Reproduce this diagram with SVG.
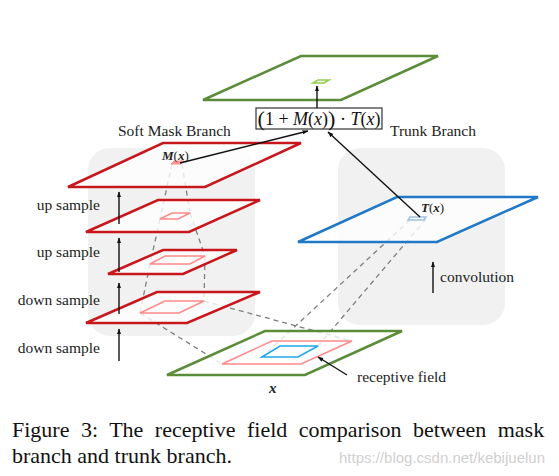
<svg xmlns="http://www.w3.org/2000/svg" width="559" height="476" viewBox="0 0 559 476">
<defs>
<marker id="ah" viewBox="0 0 10 10" refX="9" refY="5" markerWidth="6" markerHeight="6" orient="auto-start-reverse" markerUnits="userSpaceOnUse"><path d="M0,1.5 L10,5 L0,8.5 z" fill="#111"/></marker>
<style>
.lbl{font-family:"Liberation Serif","Times New Roman",serif;font-size:15.5px;fill:#222}
.math{font-family:"Liberation Serif","Times New Roman",serif;font-weight:bold;font-style:italic;font-size:13px;fill:#222}
.bg{fill:#f1f1f1}
.red{fill:#fff;fill-opacity:0.78;stroke:#c8161d;stroke-width:2.5;stroke-linejoin:miter}
.pink{fill:none;stroke:#ff8a8a;stroke-width:1.5}
.green{fill:#fff;fill-opacity:0.78;stroke:#5b8c3a;stroke-width:2.5}
.blue{fill:#fff;fill-opacity:0.78;stroke:#2079c7;stroke-width:2.5}
.dash{fill:none;stroke:#7f7f7f;stroke-width:1.3;stroke-dasharray:5,4}
.arr{fill:none;stroke:#111;stroke-width:1.4;marker-end:url(#ah)}
.cap{font-family:"Liberation Serif","Times New Roman",serif;font-size:22px;fill:#111}
</style>
</defs>
<rect width="559" height="476" fill="#fff"/>
<g id="bg-soft"><rect class="bg" x="88" y="148" width="167" height="188" rx="22"/></g>
<g id="bg-trunk"><rect class="bg" x="338" y="148" width="167" height="177" rx="22"/></g>
<g id="connectors-dashed">
<path class="dash" d="M172,164 L160,219 M182,164 L190,213 M160,219 L150,264 M190,213 L205,256 M150,264 L140,313 M205,256 L204,301 M140,313 L222,364 M204,301 L352,341"/>
<path class="dash" d="M410,220 L262,357 M426,219 L318,346"/>
</g>
<g id="plane-x">
<polygon class="green" points="265,331 402,331 305,375 167,375"/>
<polygon class="pink" points="272,341 352,341 301,364 222,364"/>
<polygon fill="none" stroke="#1fa8e6" stroke-width="1.6" points="280,346 318,346 298,357 262,357"/>
</g>
<g id="mask-4">
<polygon class="red" points="157,292 260,292 187,323 86,323"/>
<polygon class="pink" points="165,301 204,301 179,313 140,313"/>
</g>
<g id="mask-3">
<polygon class="red" points="163,250 237,250 183,274 108,274"/>
<polygon class="pink" points="165,256 205,256 190,264 150,264"/>
</g>
<g id="mask-2">
<polygon class="red" points="158,200 260,200 189,232 86,232"/>
<polygon class="pink" points="172,213 190,213 178,219 160,219"/>
</g>
<g id="mask-1">
<polygon class="red" points="163,143 301,143 205,187 68,187"/>
<polygon fill="#ff9a9a" stroke="#ff8a8a" stroke-width="1" points="174,161 184,161 181,164 171,164"/>
<text class="math" x="162" y="160">M<tspan font-weight="normal" font-style="normal">(</tspan>x<tspan font-weight="normal" font-style="normal">)</tspan></text>
</g>
<g id="trunk">
<polygon class="blue" points="397,197 538,197 437,242 298,242"/>
<polygon fill="none" stroke="#9dc3e6" stroke-width="1.5" points="410,217 426,217 424,220 408,220"/>
<text class="math" x="421" y="212">T<tspan font-weight="normal" font-style="normal">(</tspan>x<tspan font-weight="normal" font-style="normal">)</tspan></text>
</g>
<g id="output">
<polygon class="green" points="301,56 438,56 341,100 203,100"/>
<polygon fill="none" stroke="#92d050" stroke-width="1.6" points="318,80 329,80 324,83 313,83"/>
</g>
<g id="formula">
<rect x="256" y="108" width="126" height="21" fill="#fff" stroke="#333" stroke-width="1.2"/>
<text x="319" y="124.5" text-anchor="middle" font-family="Liberation Serif, Times New Roman, serif" font-size="18" fill="#111"><tspan font-size="22" dy="1">(</tspan><tspan dy="-1">1 + </tspan><tspan font-style="italic">M</tspan>(<tspan font-style="italic">x</tspan>)<tspan font-size="22" dy="1">)</tspan><tspan dy="-1"> · </tspan><tspan font-style="italic">T</tspan>(<tspan font-style="italic">x</tspan>)</text>
</g>
<g id="connectors">
<line class="arr" x1="317" y1="108" x2="317" y2="86"/>
<line class="arr" x1="180" y1="163" x2="308" y2="131"/>
<line class="arr" x1="420" y1="217" x2="328" y2="132"/>
<line class="arr" x1="347" y1="375" x2="318" y2="357"/>
<line class="arr" x1="433" y1="293" x2="433" y2="262"/>
<line class="arr" x1="119" y1="224" x2="119" y2="192"/>
<line class="arr" x1="119" y1="272" x2="119" y2="238"/>
<line class="arr" x1="119" y1="314" x2="119" y2="283"/>
<line class="arr" x1="119" y1="361" x2="119" y2="329"/>
</g>
<g id="labels">
<text class="lbl" x="118" y="136">Soft Mask Branch</text>
<text class="lbl" x="390" y="136">Trunk Branch</text>
<text class="lbl" x="100" y="210" text-anchor="end">up sample</text>
<text class="lbl" x="100" y="257" text-anchor="end">up sample</text>
<text class="lbl" x="100" y="305" text-anchor="end">down sample</text>
<text class="lbl" x="100" y="353" text-anchor="end">down sample</text>
<text class="lbl" x="440" y="282">convolution</text>
<text class="lbl" x="357" y="382">receptive field</text>
<text class="math" x="269" y="393" style="font-size:15px">x</text>
</g>
<g id="caption">
<text class="cap" x="12" y="437" word-spacing="6">Figure 3: The receptive field comparison between mask</text>
<text class="cap" x="12" y="463">branch and trunk branch.</text>
<text x="545" y="463" text-anchor="end" font-family="Liberation Sans, Arial, sans-serif" font-size="15" fill="#d0d0d0">https://blog.csdn.net/kebijuelun</text>
</g>
</svg>
